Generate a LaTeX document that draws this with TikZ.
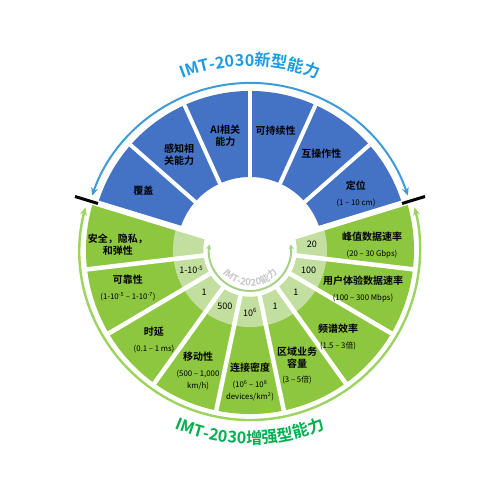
\documentclass[tikz,border=0pt]{standalone}
\usepackage{fontspec}
\setmainfont{Noto Sans CJK SC}[BoldFont=* Bold]
\usetikzlibrary{arrows.meta,decorations.text}
\definecolor{newB}{HTML}{4472C4}
\definecolor{arcB}{HTML}{3E9BD8}
\definecolor{ttlB}{HTML}{1D9BE2}
\definecolor{enhG}{HTML}{8DC63F}
\definecolor{ringG}{HTML}{C3DFA0}
\definecolor{arcG}{HTML}{9DD35F}
\definecolor{ttlG}{HTML}{00B050}
\definecolor{oldG}{HTML}{A8D08D}
\definecolor{oldT}{HTML}{C6C6C6}
\newcommand{\segttl}{\fontsize{10}{12}\selectfont\bfseries}
\newcommand{\segval}{\normalfont\fontsize{7.8}{9.6}\selectfont}
\newcommand{\ringval}{\fontsize{9}{11}\selectfont}
\newcommand{\bigttl}{\fontsize{16.2}{18}\selectfont\bfseries}

\begin{document}
\begin{tikzpicture}[x=1pt,y=1pt,every node/.style={inner sep=0pt,outer sep=0pt,align=center,font=\segval}]
\path[use as bounding box] (-250,-250) rectangle (250,250);
% ---------- annular sectors
\newcommand{\annseg}[5]{% #1,#2 = angles, #3,#4 = radii, #5 = colour
 \fill[#5] (#1:#4) arc[start angle=#1,end angle=#2,radius=#4] -- (#2:#3) arc[start angle=#2,end angle=#1,radius=#3] -- cycle;}
\annseg{17}{163}{73}{159}{newB}
\annseg{163}{377}{47}{164}{enhG}
\annseg{163}{377}{47}{77}{ringG}
% ---------- white gaps
\foreach \a in {41.33,65.67,90,114.33,138.67} \draw[white,line width=4pt] (\a:70) -- (\a:162);
\foreach \k in {1,...,8} \draw[white,line width=4.5pt] ({163+\k*23.78}:40) -- ({163+\k*23.78}:167);
\foreach \a in {17,163} \draw[white,line width=6pt] (\a:40) -- (\a:167);
% ---------- outer arcs and marks
\draw[arcB,line width=2pt,{Stealth[length=8pt,width=7pt]}-{Stealth[length=8pt,width=7pt]}] (19:167) arc[start angle=19,end angle=161,radius=167];
\draw[arcG,line width=2.4pt,{Stealth[length=8pt,width=7pt]}-{Stealth[length=8pt,width=7pt]}] (165.5:170) arc[start angle=165.5,end angle=374.5,radius=170];
\foreach \a in {17,163} \draw[line width=3pt] (\a:159) -- (\a:183);
% ---------- IMT-2020 ring
\draw[oldG,line width=2pt,{Stealth[length=5pt,width=5pt]}-{Stealth[length=5pt,width=5pt]}] (172:41) arc[start angle=172,end angle=368,radius=41];
\path[decorate,decoration={text along path,text align=center,text color=oldT,text={|\fontsize{9.6}{11}\selectfont\bfseries|IMT-2020能力}}] (195:36) arc[start angle=195,end angle=345,radius=36];
% ---------- titles
\path[decorate,decoration={text along path,text align=center,text color=ttlB,text={|\bigttl|IMT-2030新型能力}}] (125:184) arc[start angle=125,end angle=55,radius=184];
\path[decorate,decoration={text along path,text align=center,text color=ttlG,text={|\bigttl|IMT-2030增强型能力}}] (235:194) arc[start angle=235,end angle=305,radius=194];
% ---------- new capabilities
\node[font=\segttl] (cover) at (150.83:122) {覆盖};
\node[font=\segttl] (sense) at (126.5:119) {感知相\\关能力};
\node[font=\segttl] (ai) at (102.17:117) {AI相关\\能力};
\node[font=\segttl] (sustain) at (77.83:122) {可持续性};
\node[font=\segttl] (interop) at (53.5:120) {互操作性};
\node[font=\segttl] (position) at (28:120) {定位\\[4pt]\segval (1 – 10 cm)};
% ---------- enhanced capabilities
\node[font=\segttl] (secure) at (-132,5) {安全，隐私，\\和弹性};
\node[font=\segttl] (reliab) at (-122,-38) {可靠性\\[4pt]\segval (1-10\textsuperscript{-5} – 1-10\textsuperscript{-7})};
\node[font=\segttl] (latency) at (-96,-90) {时延\\[4pt]\segval (0.1 – 1 ms)};
\node[font=\segttl] (mobil) at (-52,-121) {移动性\\[4pt]\segval (500 – 1,000\\\segval km/h)};
\node[font=\segttl] (density) at (0,-132) {连接密度\\[4pt]\segval (10\textsuperscript{6} – 10\textsuperscript{8}\\\segval devices/km\textsuperscript{2})};
\node[font=\segttl] (areacap) at (47,-116) {区域业务\\容量\\[3pt]\segval (3 – 5倍)};
\node[font=\segttl] (spectr) at (88,-87) {频谱效率\\[4pt]\segval (1.5 – 3倍)};
\node[font=\segttl] (userrate) at (113,-39) {用户体验数据速率\\[4pt]\segval (100 – 300 Mbps)};
\node[font=\segttl] (peak) at (122,5) {峰值数据速率\\[4pt]\segval (20 – 30 Gbps)};
% ---------- IMT-2020 values
\foreach \a/\v [count=\i] in {198.7/1-10\textsuperscript{-5}, 222.4/1, 246.2/500, 270/10\textsuperscript{6}, 293.8/1, 317.6/1, 341.3/100, 5.1/20}
 \node[font=\ringval] (v\i) at (\a:62) {\v};
\end{tikzpicture}
\end{document}
